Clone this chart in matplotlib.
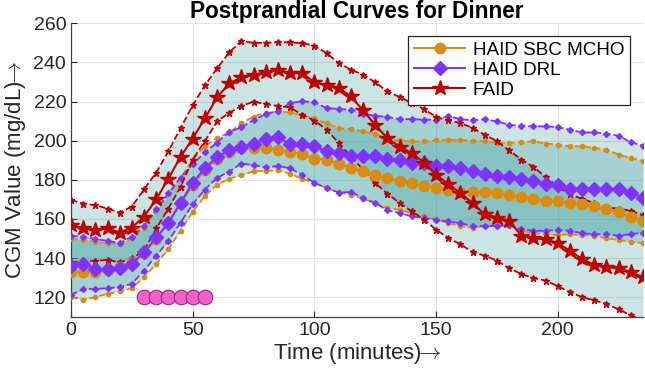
import numpy as np
import matplotlib
matplotlib.use("Agg")
import matplotlib.pyplot as plt

plt.rcParams['font.family'] = ['Liberation Sans', 'DejaVu Sans']
plt.rcParams['mathtext.fontset'] = 'cm'

time_min = list(range(0, 240, 5))

faid_mean = [156.8,155.1,154.2,155.1,153.0,155.6,161.2,170.0,180.5,191.8,201.1,211.4,222.1,229.3,232.3,233.5,
             235.2,236.1,234.5,234.5,229.8,228.5,227.0,222.6,215.5,208.0,201.2,197.0,193.6,188.8,182.5,177.8,
             173.2,168.0,162.4,160.7,159.0,151.4,150.0,149.7,147.5,143.7,139.5,136.4,135.6,134.7,132.7,130.2]
faid_upper = [169.7,167.8,167.0,165.3,163.2,166.3,175.1,183.6,194.6,206.4,218.0,228.3,236.9,245.1,251.0,250.0,
              250.0,250.4,250.2,249.8,248.6,244.7,239.7,236.3,233.7,229.8,225.2,222.3,219.2,216.2,212.1,210.4,
              209.0,206.5,203.0,199.7,195.1,190.3,186.6,181.5,176.4,172.5,170.3,168.0,165.8,165.3,164.1,161.9]
faid_lower = [137.8,138.3,138.6,139.0,137.8,139.8,143.7,155.1,165.3,176.4,190.3,199.7,209.8,214.3,217.7,219.9,
              218.7,217.7,217.0,213.2,210.3,205.6,198.8,192.0,185.1,178.3,172.9,168.1,163.9,159.6,154.5,150.2,
              147.0,143.0,141.2,138.6,134.7,131.9,129.7,128.5,125.6,122.5,120.0,118.3,116.6,113.7,110.7,108.0]

drl_mean = [136.1,137.0,134.4,134.4,134.7,137.0,142.9,150.5,157.8,168.3,178.4,186.0,191.8,195.3,197.0,198.3,
            200.7,201.7,198.3,198.1,197.2,194.5,193.7,192.3,192.3,192.3,190.6,190.3,188.6,188.6,187.2,186.9,
            186.0,184.4,182.7,181.9,181.5,180.5,179.3,177.6,177.1,175.1,175.1,175.1,175.1,175.1,173.4,170.8]
drl_upper = [151.4,151.0,149.7,148.8,147.6,151.0,156.4,164.9,173.0,181.0,188.0,194.0,199.0,204.5,206.8,210.6,
             213.5,215.3,219.2,220.2,219.6,216.7,216.2,215.8,213.8,212.7,212.1,211.0,211.0,210.7,210.7,212.4,
             211.0,210.4,211.0,209.8,208.1,207.6,207.3,207.3,206.9,205.6,204.2,204.2,203.6,202.5,199.2,197.5]
drl_lower = [121.2,124.2,124.2,124.6,125.1,126.8,133.6,141.2,148.8,158.1,167.5,175.0,181.0,184.2,188.3,187.5,
             186.4,187.0,185.9,182.5,178.4,175.8,173.4,173.8,170.7,168.1,164.4,163.0,161.3,160.4,159.6,158.7,
             157.8,156.4,156.4,156.4,156.8,154.7,153.9,153.9,154.4,153.9,152.7,152.2,152.2,151.4,152.2,153.0]

sbc_mean = [132.7,133.0,133.0,134.0,135.2,137.8,142.5,149.7,158.1,168.0,177.1,185.2,190.6,194.4,196.1,196.1,
            196.1,195.3,194.4,193.0,190.8,190.3,188.2,186.0,184.3,182.6,180.9,179.2,178.3,177.0,175.8,174.9,
            173.9,174.0,173.7,173.4,172.0,171.4,170.0,169.2,169.2,168.0,167.5,166.6,164.9,163.6,161.2,159.0]
sbc_upper = [149.7,149.3,148.3,147.6,147.1,150.0,155.6,164.1,172.5,181.0,190.3,197.1,201.4,204.0,208.9,212.3,
             214.3,214.8,214.5,213.0,211.5,208.8,206.4,206.0,204.7,203.5,200.8,200.1,199.6,199.6,200.1,200.5,
             200.3,200.0,199.7,198.8,198.8,199.2,199.7,198.5,198.0,197.1,197.1,196.3,195.4,192.9,191.2,189.5]
sbc_lower = [120.0,118.6,120.0,121.7,122.9,124.6,130.2,137.0,144.6,153.9,163.6,171.7,177.5,180.5,182.4,184.3,
             184.6,184.8,183.2,180.4,178.5,175.8,173.6,172.4,170.2,168.1,165.6,164.7,163.0,161.3,159.6,157.9,
             156.3,155.5,156.4,156.4,156.4,153.9,152.7,152.2,151.7,152.2,151.7,151.4,150.0,149.3,148.3,147.6]

meal_times = [30, 35, 40, 45, 50, 55]
meal_level = [120, 120, 120, 120, 120, 120]

series = [
    ("HAID SBC MCHO", sbc_mean, sbc_upper, sbc_lower, "#D98C10", "o", 7.5, 3),
    ("HAID DRL", drl_mean, drl_upper, drl_lower, "#8033FF", "D", 7, 3),
    ("FAID", faid_mean, faid_upper, faid_lower, "#C00000", "*", 11.5, 4.5),
]

fig = plt.figure(figsize=(6.45, 3.78), dpi=100)
ax = fig.add_axes([71/645, 1-316.7/378, 572/645, 293.4/378])

fill_color = (0.2, 0.6, 0.6)
for name, m, u, l, c, mk, ms, sms in series:
    ax.fill_between(time_min, l, u, color=fill_color, alpha=0.25, linewidth=0, zorder=1)

handles = []
for name, m, u, l, c, mk, ms, sms in series:
    ax.plot(time_min, u, '--', color=c, marker=mk, markersize=sms, linewidth=1.3, zorder=3)
    ax.plot(time_min, l, '--', color=c, marker=mk, markersize=sms, linewidth=1.3, zorder=3)
for name, m, u, l, c, mk, ms, sms in series:
    h, = ax.plot(time_min, m, '-', color=c, marker=mk, markersize=ms, linewidth=1.5, label=name, zorder=4)
    handles.append(h)

ax.plot(meal_times, meal_level, 'o', color='#F062CA', markeredgecolor='#9A2A78',
        markeredgewidth=0.8, markersize=10.5, linestyle='none', zorder=5)

ax.set_xlim(0, 235)
ax.set_ylim(110, 260)
ax.set_xticks([0, 50, 100, 150, 200])
ax.set_yticks([120, 140, 160, 180, 200, 220, 240, 260])
ax.grid(True, color='#E3E3E3', linewidth=0.8)
ax.set_axisbelow(True)
for s in ['top', 'right']:
    ax.spines[s].set_visible(False)
for s in ['left', 'bottom']:
    ax.spines[s].set_color('#404040')
    ax.spines[s].set_linewidth(0.9)
ax.tick_params(direction='in', length=4, labelsize=14, colors='#262626', width=0.8)

ax.set_title("Postprandial Curves for Dinner", fontsize=16.3, fontweight='bold', pad=3)
ax.set_xlabel(r"Time (minutes)$\!\!\rightarrow$", fontsize=16, color='#262626', labelpad=2)
ax.set_ylabel(r"CGM Value (mg/dL)$\!\!\rightarrow$", fontsize=16, color='#262626', labelpad=4)

leg = ax.legend(handles=handles, loc='upper right', bbox_to_anchor=(0.977, 0.957),
                borderaxespad=0, fontsize=13.6, frameon=True, fancybox=False, edgecolor='#262626',
                framealpha=1, handlelength=2.7, borderpad=0.3, labelspacing=0.15,
                handletextpad=0.4)
leg.get_frame().set_linewidth(0.9)

fig.savefig("out.png", dpi=100)
